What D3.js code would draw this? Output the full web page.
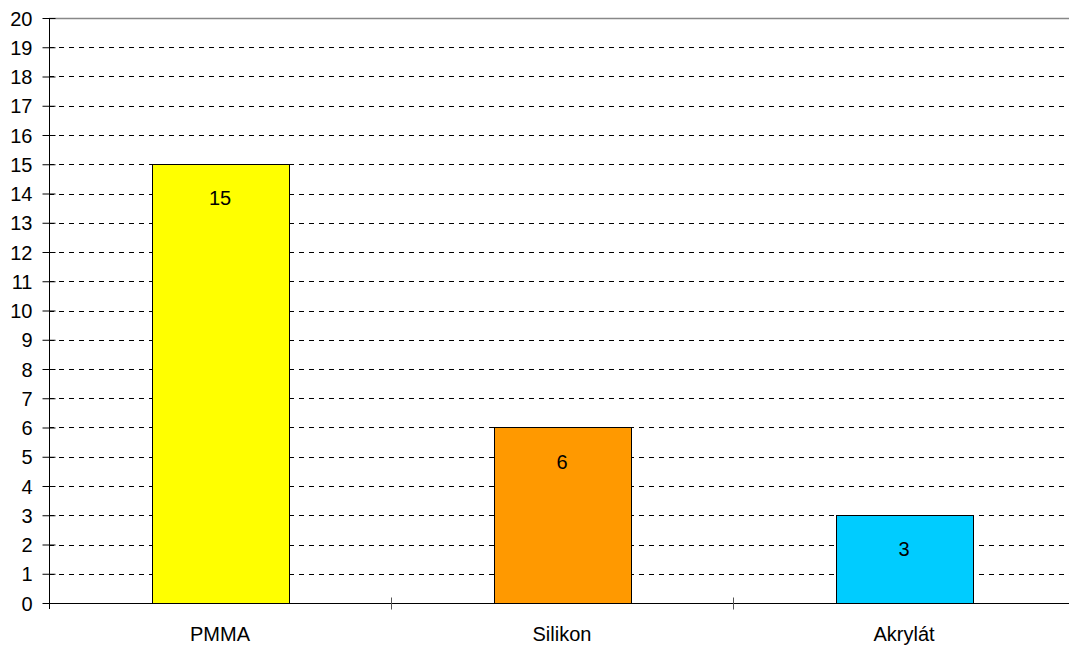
<!DOCTYPE html>
<html>
<head>
<meta charset="utf-8">
<script src="https://cdn.jsdelivr.net/npm/d3@7"></script>
<style>
  html, body { margin: 0; padding: 0; background: #fff; }
  svg { display: block; font-family: "Liberation Sans", Arial, sans-serif; }
</style>
</head>
<body>
<svg id="chart" width="1069" height="646"></svg>
<script>
// Material counts
const categories = ["PMMA", "Silikon", "Akrylát"];
const values = [15, 6, 3];
const barColors = ["#FFFF00", "#FF9900", "#00CCFF"];
const yTicks = d3.range(0, 21);

const svg = d3.select("#chart");
const margin = { left: 49, top: 18, bottom: 603, right: 1075 };
const fontSize = 20;

const x = d3.scaleBand()
  .domain(categories)
  .range([margin.left, margin.right])
  .paddingInner(0.6)
  .paddingOuter(0.3);

const xBand = d3.scaleBand()
  .domain(categories)
  .range([margin.left, margin.right]);

const y = d3.scaleLinear().domain([0, 20]).range([margin.bottom, margin.top]);

// Horizontal gridlines
svg.append("g").selectAll("line")
  .data(yTicks.filter(d => d > 0 && d < 20))
  .join("line")
  .attr("x1", margin.left)
  .attr("x2", 1069)
  .attr("y1", d => Math.round(y(d)) + 0.5)
  .attr("y2", d => Math.round(y(d)) + 0.5)
  .attr("stroke", "#000")
  .attr("stroke-width", 1)
  .attr("stroke-dasharray", "5,5");

// Top border line
svg.append("line")
  .attr("x1", margin.left).attr("x2", 1069)
  .attr("y1", Math.round(y(20)) + 0.5).attr("y2", Math.round(y(20)) + 0.5)
  .attr("stroke", "#888").attr("stroke-width", 1.5);

// Bars
svg.append("g").selectAll("rect")
  .data(categories)
  .join("rect")
  .attr("x", d => Math.round(x(d)) + 0.5)
  .attr("y", (d, i) => Math.round(y(values[i])) + 0.5)
  .attr("width", Math.round(x.bandwidth()))
  .attr("height", (d, i) => Math.round(y(0)) - Math.round(y(values[i])))
  .attr("fill", (d, i) => barColors[i])
  .attr("stroke", "#000")
  .attr("stroke-width", 1);

// Value labels
svg.append("g").selectAll("text")
  .data(categories)
  .join("text")
  .attr("x", d => x(d) + x.bandwidth() / 2)
  .attr("y", (d, i) => y(values[i]) + 41)
  .attr("text-anchor", "middle")
  .attr("font-size", fontSize)
  .attr("fill", "#000")
  .text((d, i) => values[i]);

// Y axis
const yAxis = svg.append("g")
  .attr("transform", `translate(${margin.left + 0.5},0)`)
  .call(d3.axisLeft(y).tickValues(yTicks).tickSize(7).tickPadding(10).tickFormat(d3.format("d")));
yAxis.select(".domain").attr("stroke", "#000").attr("d", `M0,${margin.top}V${margin.bottom + 6}`);
yAxis.selectAll(".tick line").attr("x1", -7).attr("x2", 6).attr("stroke", "#000");
yAxis.selectAll(".tick text")
  .attr("x", -17)
  .attr("dy", null)
  .attr("y", 7)
  .attr("font-size", fontSize)
  .attr("font-family", "Liberation Sans, Arial, sans-serif")
  .attr("fill", "#000");

// X axis
const xAxis = svg.append("g")
  .attr("transform", `translate(0,${Math.round(y(0)) + 0.5})`);
xAxis.append("line")
  .attr("x1", margin.left).attr("x2", 1069)
  .attr("y1", 0).attr("y2", 0)
  .attr("stroke", "#000");
xAxis.selectAll("line.sep")
  .data(categories.slice(1))
  .join("line")
  .attr("class", "sep")
  .attr("x1", d => Math.round(xBand(d)) + 0.5)
  .attr("x2", d => Math.round(xBand(d)) + 0.5)
  .attr("y1", -6).attr("y2", 6)
  .attr("stroke", "#555");
xAxis.selectAll("text.cat")
  .data(categories)
  .join("text")
  .attr("class", "cat")
  .attr("x", d => xBand(d) + xBand.bandwidth() / 2)
  .attr("y", 37)
  .attr("text-anchor", "middle")
  .attr("font-size", fontSize)
  .attr("fill", "#000")
  .text(d => d);
</script>
</body>
</html>
